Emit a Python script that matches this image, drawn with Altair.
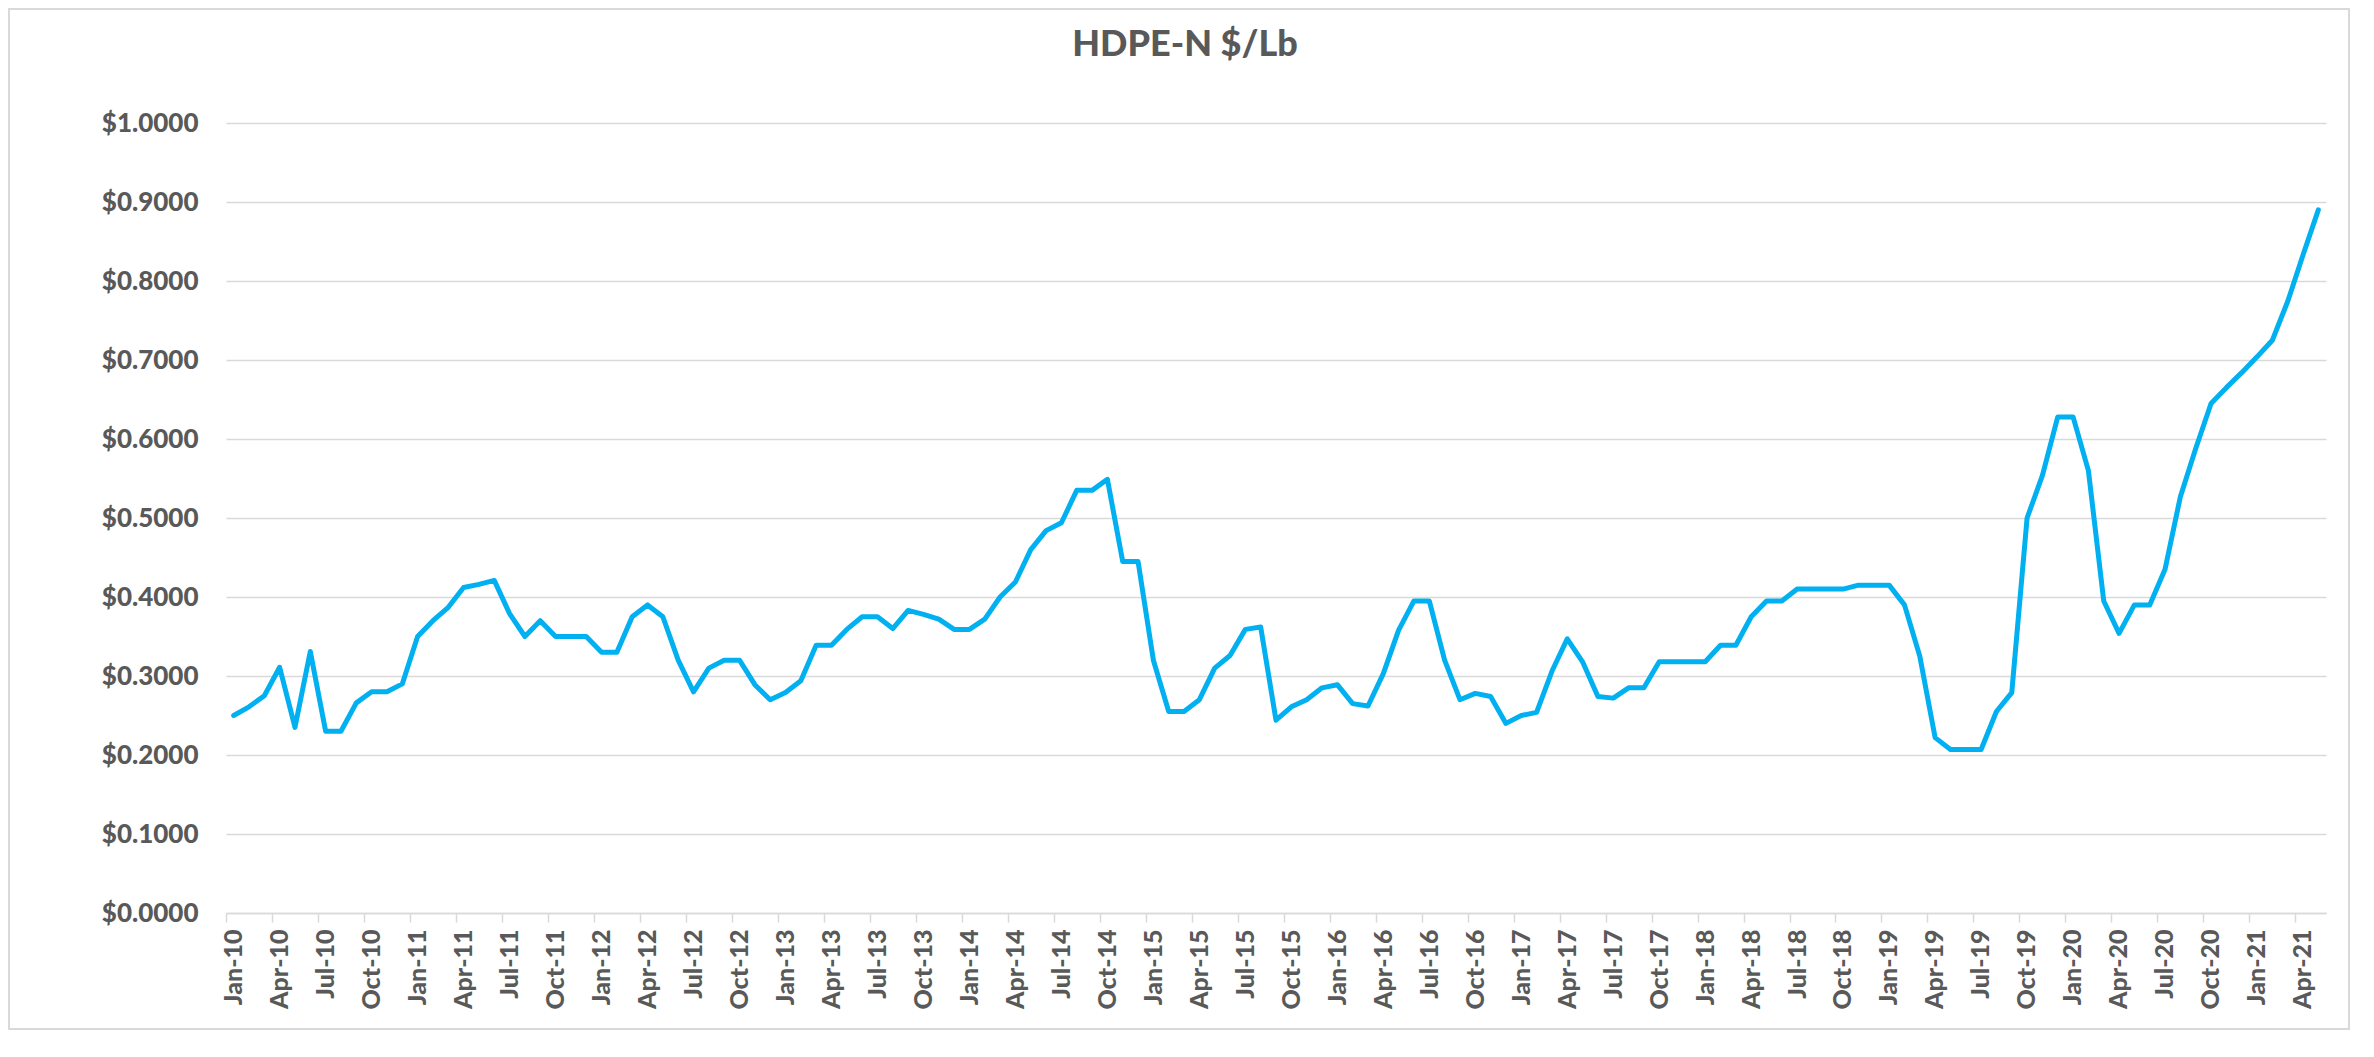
import json
import altair as alt
import pandas as pd

# ---- data (monthly HDPE-N price, $/Lb, Jan-2010 .. May-2021) ----
start_year = 2010
prices_2010 = [0.250, 0.261, 0.275, 0.311, 0.235, 0.331, 0.230, 0.230, 0.266, 0.280, 0.280, 0.290]
prices_2011 = [0.350, 0.370, 0.387, 0.412, 0.416, 0.421, 0.379, 0.350, 0.370, 0.350, 0.350, 0.350]
prices_2012 = [0.330, 0.330, 0.375, 0.390, 0.375, 0.320, 0.280, 0.310, 0.320, 0.320, 0.289, 0.270]
prices_2013 = [0.279, 0.294, 0.339, 0.339, 0.359, 0.375, 0.375, 0.360, 0.383, 0.378, 0.372, 0.359]
prices_2014 = [0.359, 0.372, 0.400, 0.419, 0.460, 0.484, 0.494, 0.535, 0.535, 0.549, 0.445, 0.445]
prices_2015 = [0.320, 0.255, 0.255, 0.270, 0.310, 0.326, 0.359, 0.362, 0.244, 0.261, 0.270, 0.285]
prices_2016 = [0.289, 0.265, 0.262, 0.303, 0.358, 0.395, 0.395, 0.320, 0.270, 0.278, 0.274, 0.240]
prices_2017 = [0.250, 0.254, 0.306, 0.347, 0.318, 0.274, 0.272, 0.285, 0.285, 0.318, 0.318, 0.318]
prices_2018 = [0.318, 0.339, 0.339, 0.375, 0.395, 0.395, 0.410, 0.410, 0.410, 0.410, 0.415, 0.415]
prices_2019 = [0.415, 0.390, 0.325, 0.222, 0.207, 0.207, 0.207, 0.255, 0.279, 0.500, 0.554, 0.628]
prices_2020 = [0.628, 0.560, 0.395, 0.354, 0.390, 0.390, 0.435, 0.527, 0.588, 0.645, 0.665, 0.684]
prices_2021 = [0.704, 0.725, 0.774, 0.833, 0.890]

month_names = ["Jan", "Feb", "Mar", "Apr", "May", "Jun",
               "Jul", "Aug", "Sep", "Oct", "Nov", "Dec"]
y_ticks = [0.0, 0.1, 0.2, 0.3, 0.4, 0.5, 0.6, 0.7, 0.8, 0.9, 1.0]

prices = (prices_2010 + prices_2011 + prices_2012 + prices_2013 + prices_2014 +
          prices_2015 + prices_2016 + prices_2017 + prices_2018 + prices_2019 +
          prices_2020 + prices_2021)
n = len(prices)

labels = [f"{month_names[i % 12]}-{(start_year + i // 12) % 100:02d}" for i in range(n)]
df = pd.DataFrame({
    "idx": [i + 0.5 for i in range(n)],   # centre of each monthly category
    "month": labels,
    "price": prices,
})

x_tick_values = list(range(0, n, 3))
x_tick_labels = [labels[i] for i in x_tick_values]
label_expr = json.dumps(x_tick_labels) + "[round(datum.value / 3)]"

# ---- styling ----
FONT = "Lato"
TEXT = "#595959"
GRID = "#d9d9d9"
LINE = "#00B0F0"
W, H = 2100, 790
PAD = {"left": 218, "top": 115, "right": 24, "bottom": 117}

line = alt.Chart(df).mark_line(
    color=LINE, strokeWidth=5, strokeJoin="round", strokeCap="round"
).encode(
    x=alt.X("idx:Q",
            scale=alt.Scale(domain=[0, n], nice=False, zero=False),
            axis=alt.Axis(values=x_tick_values, labelExpr=label_expr,
                          labelAngle=-90, labelOffset=7.5, labelPadding=7,
                          labelFont=FONT, labelFontSize=25, labelFontWeight=900,
                          labelColor=TEXT, tickColor=GRID, tickSize=9, tickWidth=1.5,
                          domainColor=GRID, domainWidth=1.5, grid=False, title=None,
                          labelOverlap=False, labelFlush=False)),
    y=alt.Y("price:Q",
            scale=alt.Scale(domain=[0, 1.0], nice=False),
            axis=alt.Axis(values=y_ticks, format="$.4f", labelFont=FONT,
                          labelFontSize=26, labelFontWeight=900, labelColor=TEXT,
                          ticks=False, tickSize=0, labelPadding=28, domain=False,
                          grid=True, gridColor=GRID, gridWidth=1.5, title=None)),
    tooltip=["month", "price"],
)

# light frame around the whole chart area (decoration, like the Excel chart border)
frame = alt.Chart(alt.Data(values=[{"f": 1}])).mark_rect(
    filled=False, stroke=GRID, strokeWidth=2
).encode(
    x=alt.value(-PAD["left"] + 1), x2=alt.value(W + PAD["right"] - 1),
    y=alt.value(-PAD["top"] + 1), y2=alt.value(H + PAD["bottom"] - 1),
)

chart = alt.layer(frame, line).properties(
    width=W, height=H,
    autosize=alt.AutoSizeParams(type="none"),
    padding=PAD,
    title=alt.TitleParams("HDPE-N $/Lb", font=FONT, fontSize=36, fontWeight=900,
                          color=TEXT, anchor="middle", dx=-91, offset=-84,
                          baseline="alphabetic"),
).configure_view(stroke=None)

chart.save("out.html", embed_options={"renderer": "svg", "actions": False})
